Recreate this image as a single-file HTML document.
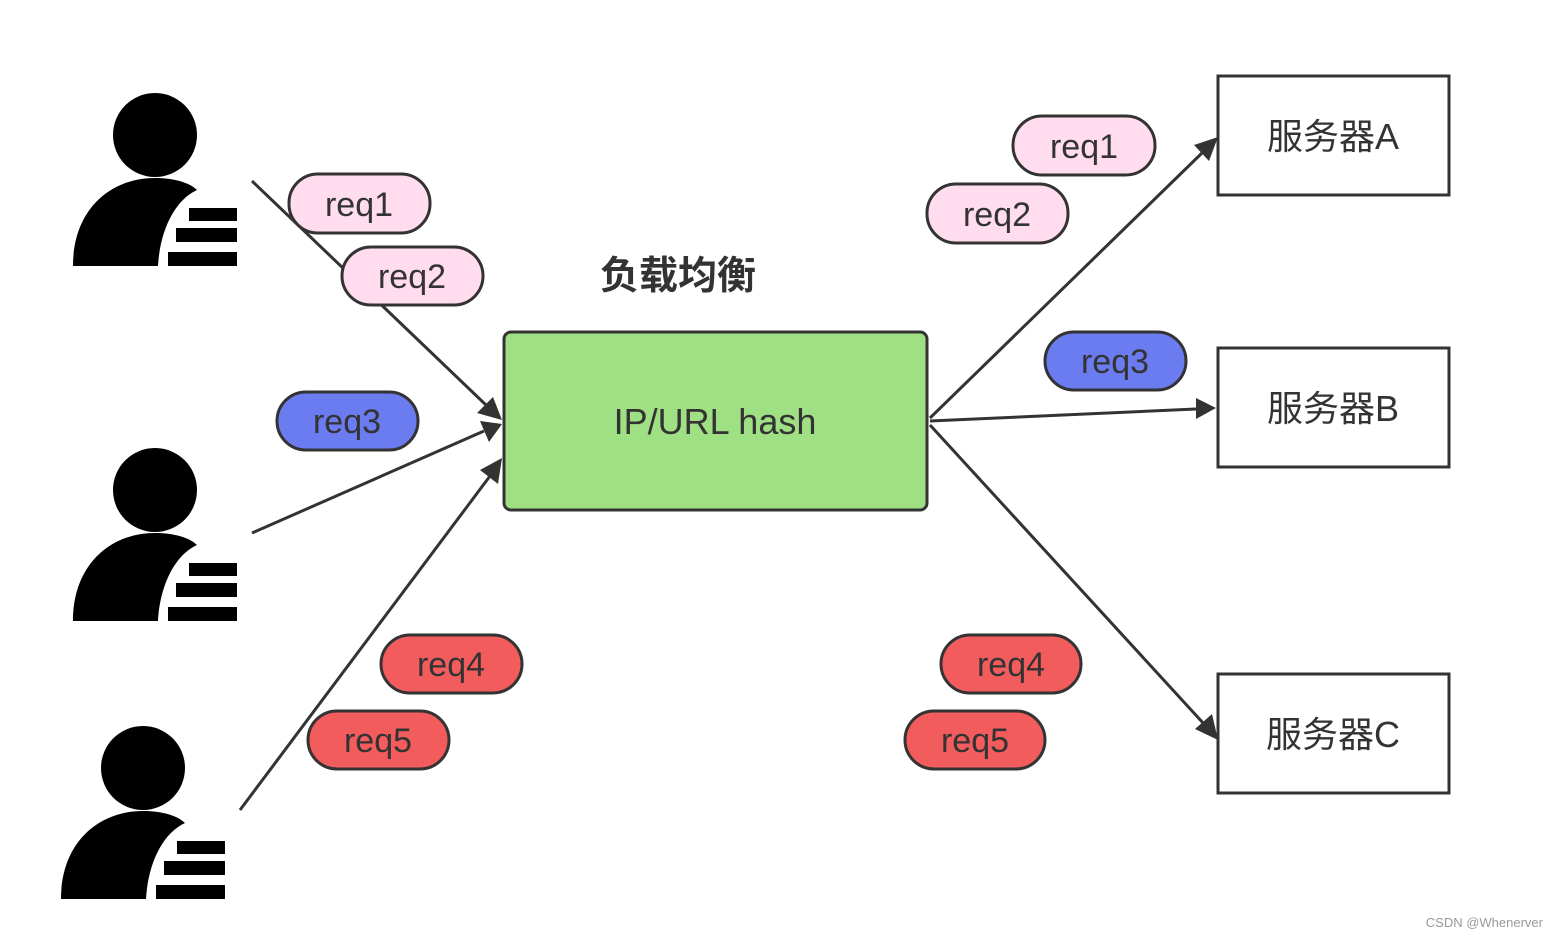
<!DOCTYPE html>
<html><head><meta charset="utf-8"><style>
html,body{margin:0;padding:0;background:#fff;}
svg{display:block}
text{font-family:"Liberation Sans","Noto Sans CJK SC",sans-serif;}
</style></head><body>
<svg width="1558" height="937" viewBox="0 0 1558 937" xmlns="http://www.w3.org/2000/svg">
<defs>
<g id="user">
<circle cx="0" cy="0" r="42" fill="#000"/>
<path d="M-82,131 C-82,75 -45,43 0,43 C20,43 35,48 42,55 C20,65 5,95 3,131 Z" fill="#000"/>
<rect x="34" y="73" width="48" height="13" fill="#000"/>
<rect x="21" y="93" width="61" height="14" fill="#000"/>
<rect x="13" y="117" width="69" height="14" fill="#000"/>
</g>
</defs>
<use href="#user" x="155" y="135"/>
<use href="#user" x="155" y="490"/>
<use href="#user" x="143" y="768"/>

<g stroke="#333" stroke-width="3" fill="none">
<line x1="252" y1="181" x2="486" y2="405"/>
<line x1="252" y1="533" x2="484" y2="431"/>
<line x1="240" y1="810" x2="490" y2="476"/>
<line x1="930" y1="418" x2="1202" y2="153"/>
<line x1="930" y1="421" x2="1196" y2="409"/>
<line x1="930" y1="425" x2="1204" y2="724"/>
</g>
<g fill="#333">
<polygon points="502,420 477,413 493,397"/>
<polygon points="502,424 489,442 480,421"/>
<polygon points="502,458 498,484 480,470"/>
<polygon points="1218,137 1209,161 1194,145"/>
<polygon points="1216,408 1196,419 1196,398"/>
<polygon points="1218,740 1195,729 1212,714"/>
</g>

<rect x="504" y="332" width="423" height="178" rx="7" fill="#a0e084" stroke="#333" stroke-width="3"/>
<text x="715" y="434" font-size="36" fill="#333" text-anchor="middle">IP/URL hash</text>
<text x="678" y="289" font-size="39" font-weight="bold" fill="#333" text-anchor="middle">负载均衡</text>

<g stroke="#333" stroke-width="3" fill="#fff">
<rect x="1218" y="76" width="231" height="119"/>
<rect x="1218" y="348" width="231" height="119"/>
<rect x="1218" y="674" width="231" height="119"/>
</g>
<g font-size="36" fill="#333" text-anchor="middle">
<text x="1333" y="149">服务器A</text>
<text x="1333" y="421">服务器B</text>
<text x="1333" y="747">服务器C</text>
</g>

<g stroke="#333" stroke-width="3">
<rect x="289" y="174" width="141" height="59" rx="29" fill="#ffdcee"/>
<rect x="342" y="247" width="141" height="58" rx="29" fill="#ffdcee"/>
<rect x="277" y="392" width="141" height="58" rx="29" fill="#6a7cf0"/>
<rect x="381" y="635" width="141" height="58" rx="29" fill="#f25c5c"/>
<rect x="308" y="711" width="141" height="58" rx="29" fill="#f25c5c"/>
<rect x="1013" y="116" width="142" height="59" rx="29" fill="#ffdcee"/>
<rect x="927" y="184" width="141" height="59" rx="29" fill="#ffdcee"/>
<rect x="1045" y="332" width="141" height="58" rx="29" fill="#6a7cf0"/>
<rect x="941" y="635" width="140" height="58" rx="29" fill="#f25c5c"/>
<rect x="905" y="711" width="140" height="58" rx="29" fill="#f25c5c"/>
</g>
<g font-size="34" fill="#333" text-anchor="middle">
<text x="359" y="216">req1</text>
<text x="412" y="288">req2</text>
<text x="347" y="433">req3</text>
<text x="451" y="676">req4</text>
<text x="378" y="752">req5</text>
<text x="1084" y="158">req1</text>
<text x="997" y="226">req2</text>
<text x="1115" y="373">req3</text>
<text x="1011" y="676">req4</text>
<text x="975" y="752">req5</text>
</g>
<text x="1543" y="927" font-size="13" fill="#999" text-anchor="end">CSDN @Whenerver</text>
</svg>
</body></html>
